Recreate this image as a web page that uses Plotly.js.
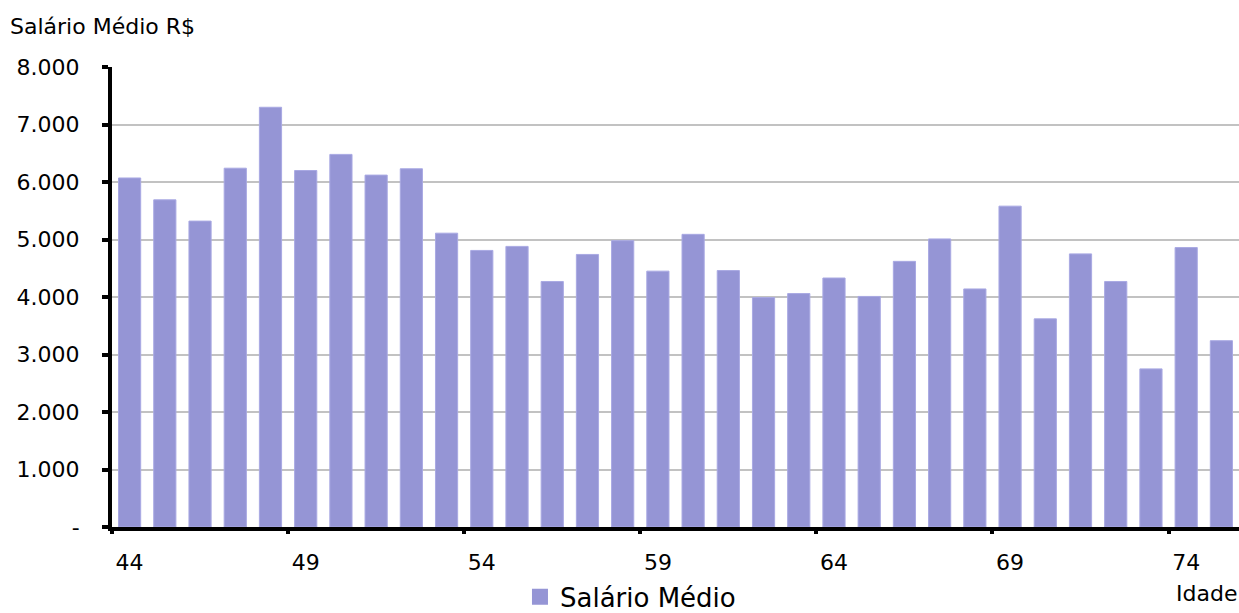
<!DOCTYPE html>
<html>
<head>
<meta charset="utf-8">
<script src="https://cdn.plot.ly/plotly-3.0.1.min.js"></script>
<style>html,body{margin:0;padding:0;background:#fff;}#chart{width:1239px;height:613px;}</style>
</head>
<body>
<div id="chart"></div>
<script>
const idades = [44,45,46,47,48,49,50,51,52,53,54,55,56,57,58,59,60,61,62,63,64,65,66,67,68,69,70,71,72,73,74,75];
const salarioMedio = [6070,5690,5320,6240,7300,6200,6480,6120,6230,5110,4810,4880,4270,4740,4980,4450,5090,4460,3990,4060,4330,4010,4620,5010,4140,5580,3620,4750,4270,2750,4860,3240];
const xTickVals = [44,49,54,59,64,69,74];
const xTickText = ['44','49','54','59','64','69','74'];
const xBoundaryTicks = [43.5,48.5,53.5,58.5,63.5,68.5,73.5];
const yTickVals = [0,1000,2000,3000,4000,5000,6000,7000,8000];
const yTickText = ['-','1.000','2.000','3.000','4.000','5.000','6.000','7.000','8.000'];
const seriesName = 'Salário Médio';

const font = 'DejaVu Sans, Verdana, sans-serif';
const barColor = '#9595d5';
const data = [
  {type:'bar', x: idades, y: salarioMedio, name: seriesName,
   marker:{color: barColor, line:{color:'#a9a9e3', width:1}}, showlegend:false},
  {type:'scatter', mode:'markers', x:[idades[0]], y:[null], name: seriesName, showlegend:true,
   marker:{symbol:'square', size:18, color: barColor}, hoverinfo:'skip'},
  {type:'scatter', x:[idades[0]], y:[null], xaxis:'x2', yaxis:'y', showlegend:false, hoverinfo:'skip'}
];
const layout = {
  width:1239, height:613,
  margin:{l:112, r:0, t:67, b:86, autoexpand:false},
  paper_bgcolor:'#fff', plot_bgcolor:'#fff',
  font:{family:font, color:'#000'},
  bargap:0.37,
  xaxis:{range:[43.5,75.5], tickvals:xTickVals, ticktext:xTickText, ticks:'', showgrid:false,
         zeroline:false, showline:true, linecolor:'#000', linewidth:4,
         tickfont:{size:22, family:font}, ticklabelstandoff:13},
  xaxis2:{overlaying:'x', matches:'x', range:[43.5,75.5], tickvals:xBoundaryTicks, showticklabels:false,
          ticks:'outside', ticklen:6, tickwidth:4, tickcolor:'#000', showgrid:false, zeroline:false,
          showline:false, anchor:'y', side:'bottom'},
  yaxis:{range:[0,8000], tickvals:yTickVals, ticktext:yTickText, showgrid:true, gridcolor:'#c2c2c2', gridwidth:2,
         zeroline:false, showline:true, linecolor:'#000', linewidth:4, ticks:'outside', ticklen:6, tickwidth:4,
         tickcolor:'#000', tickfont:{size:22, family:font}, ticklabelstandoff:18},
  showlegend:true,
  legend:{orientation:'h', x:0.362, xanchor:'left', y:-0.101, yanchor:'top', font:{size:26, family:font},
          itemwidth:20, bgcolor:'rgba(0,0,0,0)'},
  annotations:[
    {text:'Salário Médio R$', xref:'paper', yref:'paper', x:-0.092, y:1.087, xanchor:'left', yanchor:'middle',
     showarrow:false, font:{size:22, family:font}},
    {text:'Idade', xref:'paper', yref:'paper', x:1.0, y:-0.144, xanchor:'right', yanchor:'middle',
     showarrow:false, font:{size:22, family:font}}
  ]
};
Plotly.newPlot('chart', data, layout, {displayModeBar:false, staticPlot:true});
</script>
</body>
</html>
